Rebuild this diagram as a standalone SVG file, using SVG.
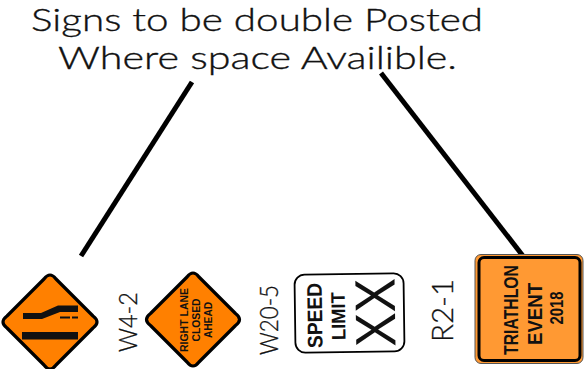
<svg xmlns="http://www.w3.org/2000/svg" width="588" height="369" viewBox="0 0 588 369">
<style>
.title{font-family:Lato,"Open Sans",sans-serif;font-weight:300;font-size:31.500px;fill:#111;stroke:#111;stroke-width:.35}
.code{font-family:Lato,"Open Sans",sans-serif;font-weight:300;font-size:25px;fill:#111;stroke:#111;stroke-width:.3}
.sign{font-family:"Liberation Sans",Arial,sans-serif;font-weight:bold;fill:#111;text-anchor:middle}
.thin{font-weight:normal}
.dia{fill:#ff8000;stroke:#000;stroke-width:3.200;stroke-linejoin:round}
.conn{stroke:#000;stroke-width:5;fill:none}
</style>
<rect width="588" height="369" fill="#fff"/>
<g id="title">
<text class="title" x="31" y="31" textLength="452" lengthAdjust="spacingAndGlyphs">Signs to be double Posted</text>
<text class="title" x="58" y="69" textLength="399" lengthAdjust="spacingAndGlyphs">Where space Availible.</text>
</g>
<g id="connectors">
<line class="conn" x1="192" y1="82" x2="81" y2="256"/>
<line class="conn" x1="381" y1="73" x2="523" y2="256"/>
</g>
<g id="sign-lane-shift">
<path class="dia" d="M44 279Q50 271 56 279L93 316Q101 322 93 328L56 365Q50 373 44 365L7 328Q-1 322 7 316Z"/>
<path d="M23 313H41L58 305.500H78V312H60L42 319H23Z" fill="#111"/>
<rect x="22" y="332" width="56" height="7.500" fill="#111"/>
<rect x="60" y="316.500" width="10" height="2" fill="#111"/>
<rect x="72" y="316.500" width="6" height="2" fill="#111"/>
</g>
<g id="label-w4-2">
<text class="code" transform="translate(137 352) rotate(-90)" textLength="60" lengthAdjust="spacingAndGlyphs">W4-2</text>
</g>
<g id="sign-right-lane">
<path class="dia" d="M187 277Q193 269 199 277L235.500 313.500Q243.500 319.500 235.500 325.500L199 362Q193 370 187 362L150.500 325.500Q142.500 319.500 150.500 313.500Z"/>
<text class="sign" transform="translate(188 320) rotate(-90)" font-size="11.500" textLength="64" lengthAdjust="spacingAndGlyphs">RIGHT LANE</text>
<text class="sign" transform="translate(200 320) rotate(-90)" font-size="11.500" textLength="43" lengthAdjust="spacingAndGlyphs">CLOSED</text>
<text class="sign" transform="translate(212 320) rotate(-90)" font-size="11.500" textLength="36" lengthAdjust="spacingAndGlyphs">AHEAD</text>
</g>
<g id="label-w20-5">
<text class="code" transform="translate(278 355) rotate(-90)" textLength="70" lengthAdjust="spacingAndGlyphs">W20-5</text>
</g>
<g id="sign-speed-limit" transform="rotate(-0.8 350 313)">
<rect x="295" y="274" width="109" height="78" rx="10" fill="#fff" stroke="#000" stroke-width="1.800"/>
<text class="sign" transform="translate(322 315) rotate(-90)" font-size="21" textLength="65" lengthAdjust="spacingAndGlyphs">SPEED</text>
<text class="sign" transform="translate(345 316) rotate(-90)" font-size="19.500" textLength="48" lengthAdjust="spacingAndGlyphs">LIMIT</text>
<text class="sign thin" transform="translate(395 313) rotate(-90)" font-size="57" textLength="69" lengthAdjust="spacingAndGlyphs">XX</text>
</g>
<g id="label-r2-1">
<text class="code" style="font-size:29px" transform="translate(453 342) rotate(-90)" textLength="63" lengthAdjust="spacingAndGlyphs">R2-1</text>
</g>
<g id="sign-triathlon">
<rect x="475" y="254.500" width="108" height="109" rx="6" fill="#ff9933" stroke="#555" stroke-width="1"/>
<rect x="479" y="257.500" width="101" height="103" rx="5" fill="#ff9933" stroke="#000" stroke-width="3"/>
<text class="sign" transform="translate(518 310) rotate(-90)" font-size="20" textLength="90" lengthAdjust="spacingAndGlyphs">TRIATHLON</text>
<text class="sign" transform="translate(542 314) rotate(-90)" font-size="20" textLength="62" lengthAdjust="spacingAndGlyphs">EVENT</text>
<text class="sign" transform="translate(563 308) rotate(-90)" font-size="18" textLength="33" lengthAdjust="spacingAndGlyphs">2018</text>
</g>
</svg>
